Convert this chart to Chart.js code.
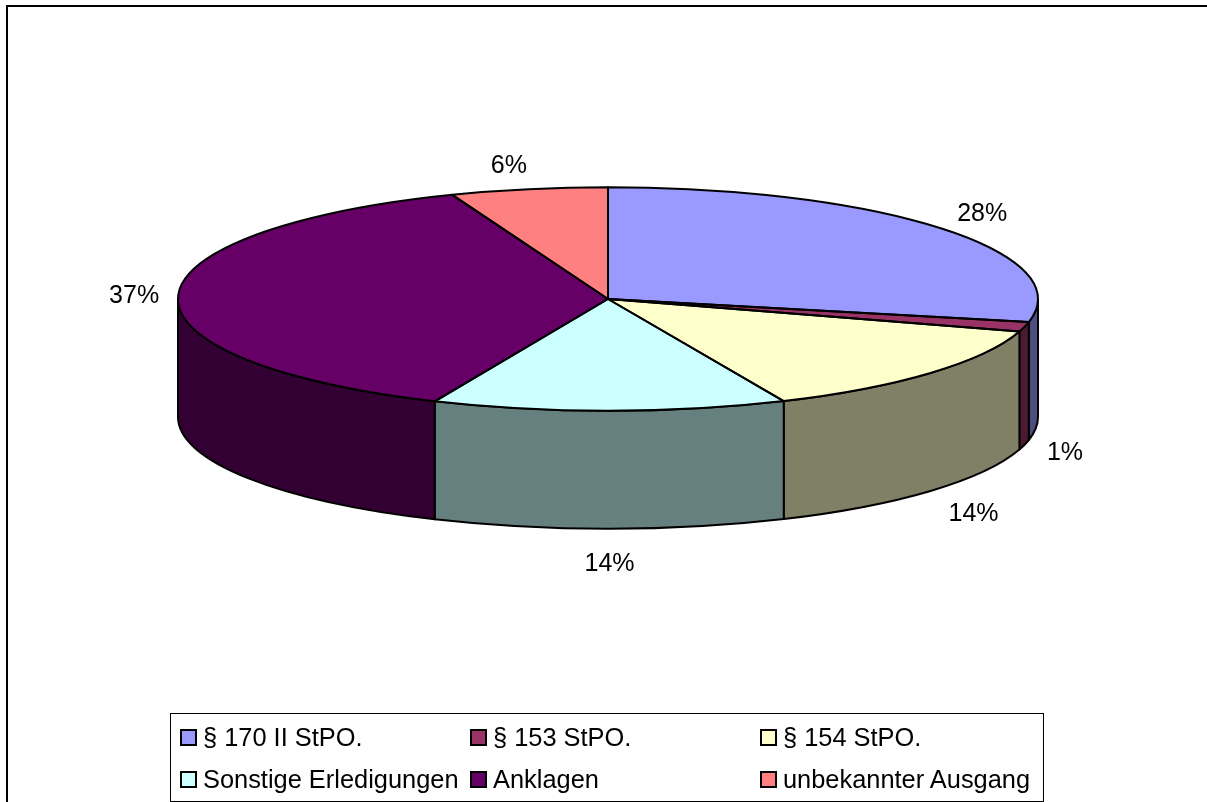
<!DOCTYPE html>
<html lang="de">
<head>
    <meta charset="UTF-8">
    <title>Erledigungen</title>
    <script src="https://cdn.jsdelivr.net/npm/chart.js@4.4.1/dist/chart.umd.min.js"></script>
    <style>
        html, body {
            margin: 0;
            height: 100%;
            background: #fff;
            overflow: hidden;
        }
        canvas {
            position: absolute;
            left: 0;
            top: 0;
        }
        #frame {
            position: absolute;
            left: 6px;
            top: 5px;
            width: 1300px;
            height: 900px;
            border: 2px solid #000;
        }
        #legend {
            position: absolute;
            left: 170px;
            top: 713px;
            width: 872px;
            height: 87px;
            border: 1px solid #000;
            font: 25.4px "Liberation Sans", Arial, sans-serif;
            color: #000;
        }
        .item {
            position: absolute;
            white-space: nowrap;
            line-height: 28px;
        }
        .box {
            position: absolute;
            left: -23px;
            top: 6px;
            width: 13px;
            height: 13px;
            border: 2px solid #000;
        }
    </style>
</head>
<body>
    <canvas id="pie" width="1207" height="802"></canvas>
    <div id="frame"></div>
    <div id="legend"></div>

    <script>
        const categories = ['§ 170 II StPO.', '§ 153 StPO.', '§ 154 StPO.', 'Sonstige Erledigungen', 'Anklagen', 'unbekannter Ausgang'];
        const shares = [28.3, 1.4, 13.6, 13.3, 37.5, 5.9];
        const shareLabels = ['28%', '1%', '14%', '14%', '37%', '6%'];
        const topColors = ['#9999FF', '#993366', '#FFFFCC', '#CCFFFF', '#660066', '#FF8080'];
        const wallColors = ['#4D4D80', '#4D1A33', '#808066', '#668080', '#330033', '#804040'];

        const squash = 0.26;   // Hoehe/Breite der Ellipse
        const depth = 118;     // Hoehe der Seitenwand
        const labelShiftX = [3, -6, 7, 0, 4, -11];   // Excel setzt die Beschriftung nicht genau radial

        // Seitenwaende, nur der vordere Teil (Winkel 0 bis PI) ist sichtbar
        function drawWalls(ctx, arcs) {
            arcs.forEach((arc, i) => {
                const a0 = Math.max(arc.startAngle, 0);
                const a1 = Math.min(arc.endAngle, Math.PI);
                if (a1 <= a0) return;
                const rx = arc.outerRadius;
                const ry = rx * squash;
                ctx.beginPath();
                ctx.ellipse(arc.x, arc.y, rx, ry, 0, a0, a1);
                ctx.ellipse(arc.x, arc.y + depth, rx, ry, 0, a1, a0, true);
                ctx.closePath();
                ctx.fillStyle = wallColors[i];
                ctx.fill();
                ctx.stroke();
            });
        }

        // Umrisse der Deckflaeche, ohne Verzerrung der Linienbreite
        function drawOutlines(ctx, arcs) {
            arcs.forEach(arc => {
                const rx = arc.outerRadius;
                const ry = rx * squash;
                ctx.beginPath();
                ctx.moveTo(arc.x, arc.y);
                ctx.ellipse(arc.x, arc.y, rx, ry, 0, arc.startAngle, arc.endAngle);
                ctx.closePath();
                ctx.stroke();
            });
        }

        function drawLabels(ctx, arcs) {
            ctx.fillStyle = '#000';
            ctx.font = '25px "Liberation Sans", Arial, sans-serif';
            ctx.textAlign = 'center';
            ctx.textBaseline = 'middle';
            arcs.forEach((arc, i) => {
                const mid = (arc.startAngle + arc.endAngle) / 2;
                const front = Math.sin(mid) > 0;
                const x = arc.x + (arc.outerRadius + 48) * Math.cos(mid) + labelShiftX[i];
                const y = arc.y + (arc.outerRadius * squash + (front ? 35 : 23)) * Math.sin(mid) + (front ? depth : 0);
                ctx.fillText(shareLabels[i], x, y);
            });
        }

        const pie3d = {
            id: 'pie3d',
            beforeDatasetsDraw(chart) {
                const ctx = chart.ctx;
                const arcs = chart.getDatasetMeta(0).data;
                ctx.lineWidth = 2;
                ctx.strokeStyle = '#000';
                ctx.lineJoin = 'round';
                drawWalls(ctx, arcs);
                // Deckflaeche: Chart.js zeichnet den Kreis, hier wird er gestaucht
                ctx.save();
                ctx.translate(arcs[0].x, arcs[0].y);
                ctx.scale(1, squash);
                ctx.translate(-arcs[0].x, -arcs[0].y);
            },
            afterDatasetsDraw(chart) {
                const ctx = chart.ctx;
                const arcs = chart.getDatasetMeta(0).data;
                ctx.restore();
                drawOutlines(ctx, arcs);
                drawLabels(ctx, arcs);
            }
        };

        const chart = new Chart(document.getElementById('pie').getContext('2d'), {
            type: 'pie',
            data: {
                labels: categories,
                datasets: [{
                    data: shares,
                    backgroundColor: topColors,
                    borderWidth: 0,
                    radius: 430,
                    clip: false
                }]
            },
            options: {
                responsive: false,
                animation: false,
                layout: {
                    padding: { left: 9, bottom: 204 }
                },
                plugins: {
                    legend: { display: false },
                    tooltip: { enabled: false }
                }
            },
            plugins: [pie3d]
        });

        // Legende in drei festen Spalten
        const legend = document.getElementById('legend');
        const columns = [32, 322, 612];
        const rows = [9, 51];
        chart.data.labels.forEach((label, i) => {
            const item = document.createElement('div');
            item.className = 'item';
            item.style.left = columns[i % 3] + 'px';
            item.style.top = rows[Math.floor(i / 3)] + 'px';
            const box = document.createElement('span');
            box.className = 'box';
            box.style.background = topColors[i];
            item.appendChild(box);
            item.appendChild(document.createTextNode(label));
            legend.appendChild(item);
        });
    </script>
</body>
</html>
